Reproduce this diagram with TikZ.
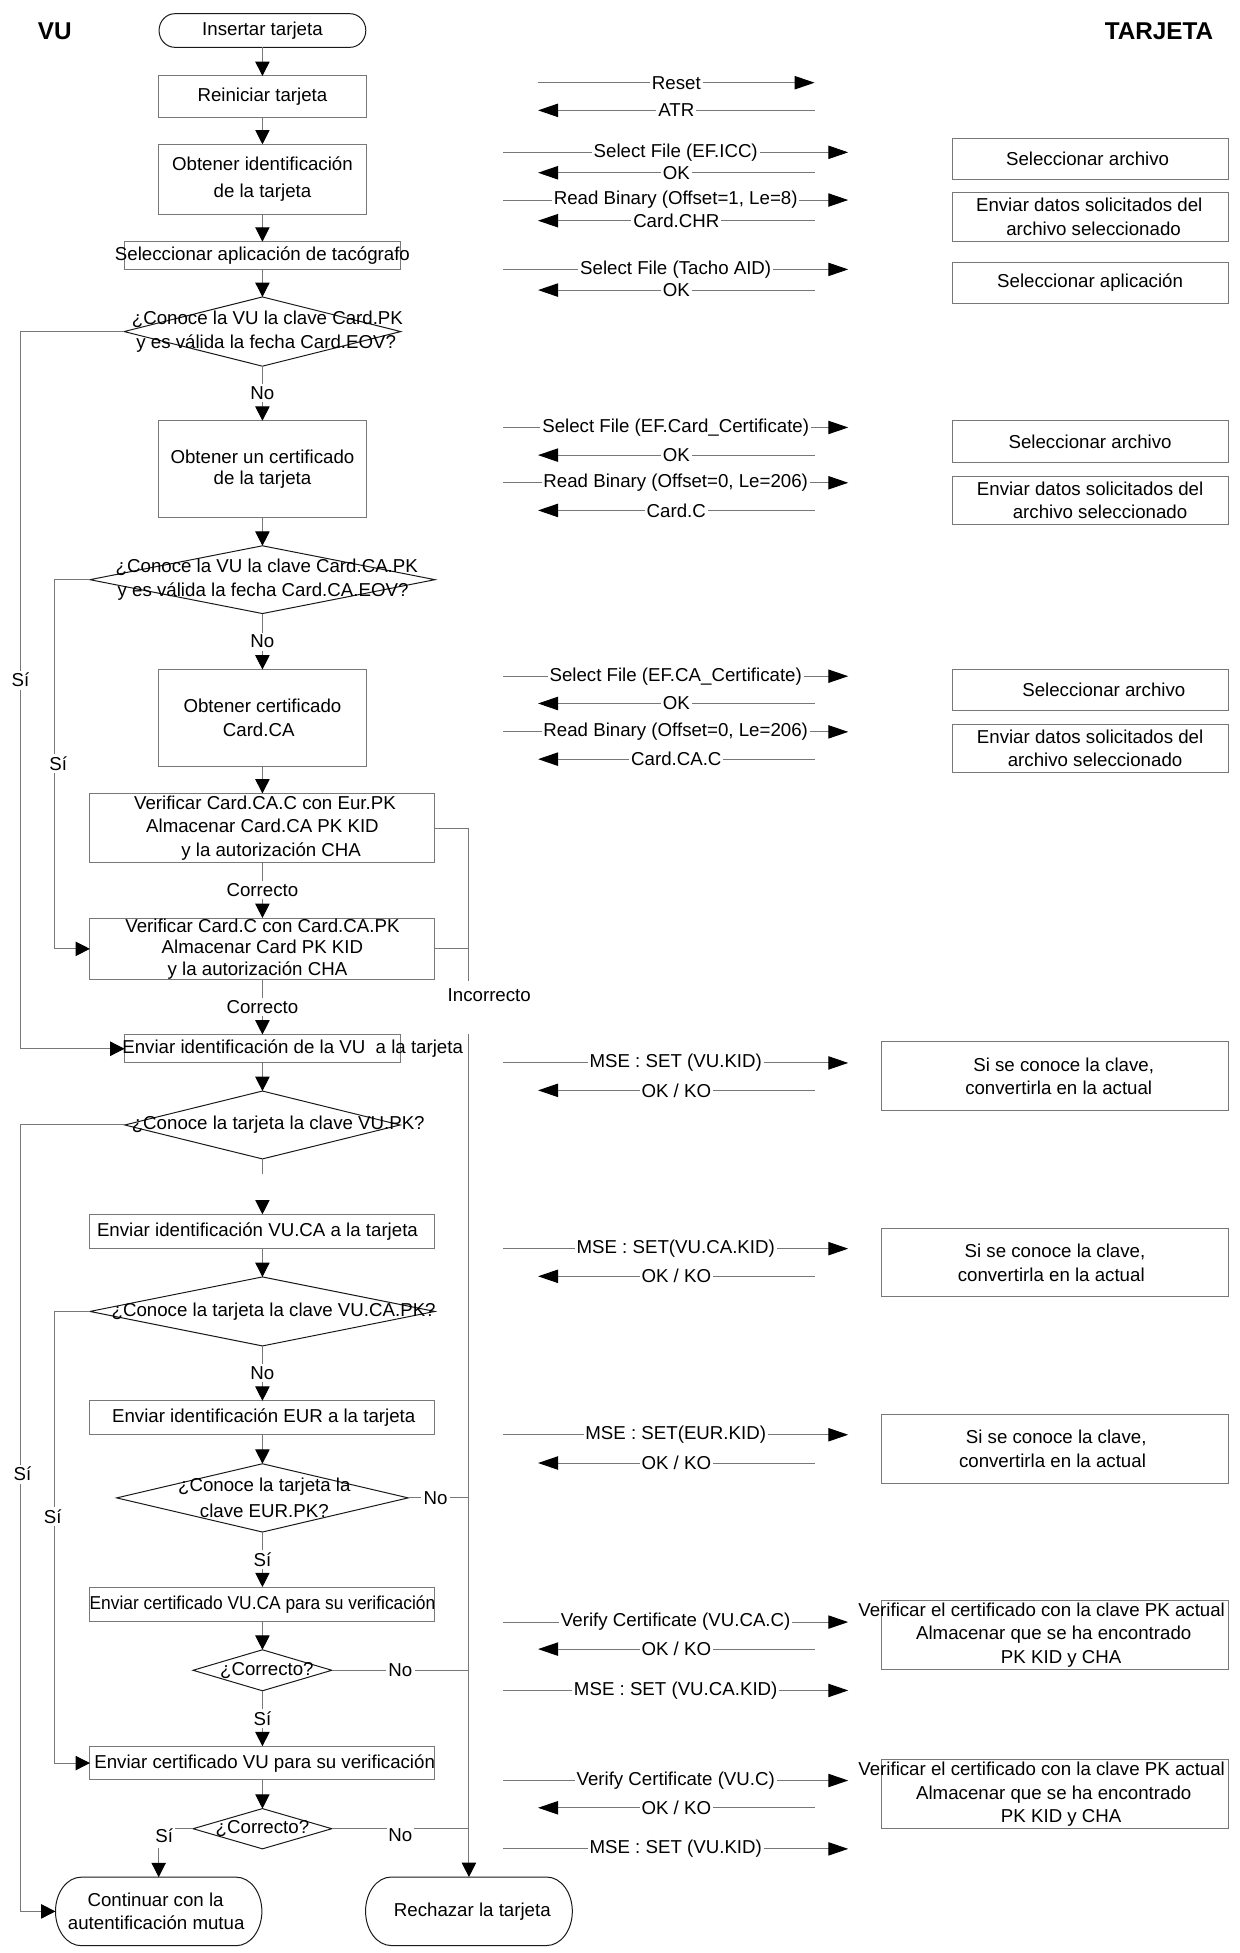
\documentclass[tikz,border=0pt]{standalone}
\usepackage{fontspec}
\usepackage{graphicx}
\setmainfont{Liberation Sans}
\newfontfamily\hdfont{Liberation Sans}
\usetikzlibrary{arrows.meta,shapes.geometric,calc}
\definecolor{lc}{RGB}{120,120,120}
\definecolor{dc}{RGB}{25,25,25}
\newcommand{\zl}[2][0]{\makebox[0pt]{\hspace*{#1pt}\hspace*{#1pt}#2}}
\newcommand{\termline}[3]{\draw[termo] ([xshift=#2pt]#1.north west) -- ([xshift=-#2pt]#1.north east) arc[start angle=90,end angle=-90,x radius=#2pt,y radius=#3pt] -- ([xshift=#2pt]#1.south west) arc[start angle=270,end angle=90,x radius=#2pt,y radius=#3pt] -- cycle;}
\begin{document}
\begin{tikzpicture}[x=1pt,y=-1pt,
  every node/.style={font=\fontsize{15}{18.7}\selectfont, inner sep=0pt, outer sep=0pt, text=black},
  box/.style 2 args={draw=lc, line width=0.8pt, minimum width=#1pt, minimum height=#2pt, align=center},
  dia/.style 2 args={diamond, draw=dc, line width=0.8pt, minimum width=#1pt, minimum height=#2pt, align=center},
  term/.style 2 args={minimum width=#1pt, minimum height=#2pt, align=center},
  termo/.style={draw=dc, line width=0.8pt},
  ln/.style={draw=lc, line width=0.8pt},
  arr/.style={ln, -{Triangle[length=11.5pt,width=11.5pt,color=black]}},
  marr/.style={ln, -{Triangle[length=16pt,width=10.7pt,color=black]}},
  lbl/.style={fill=white, inner sep=2pt},
  mlbl/.style={fill=white, inner xsep=1.5pt, inner ysep=2pt},
  hd/.style={font=\hdfont\bfseries\fontsize{19.5}{22}\selectfont}]
\fill[white] (0,0) rectangle (995,1568);
\useasboundingbox (0,0) rectangle (995,1568);

\node[hd] (vu) at (44,24.9) {VU};
\node[hd] (tj) at (930.5,24.9) {TARJETA};

% ---------------- left column ----------------
\node[term={166}{27}] (t1) at (210.7,24.5) {Insertar tarjeta};
\termline{t1}{12.7}{13.5}
\node[box={166.5}{33.2}] (b2) at (210.7,77.6) {Reiniciar tarjeta};
\node[box={166.5}{56.2}] (b3) at (210.7,144) {Obtener identificación\\[2.7pt]de la tarjeta};
\node[box={221.4}{22}] (b4) at (210.7,205) {\zl{Seleccionar aplicación de tacógrafo}};
\node[dia={222}{55.6}] (d1) at (210.7,266.2) {\zl[4]{¿Conoce la VU la clave Card.PK}\\\zl[3]{y es válida la fecha Card.EOV?}};
\node[box={167}{77.6}] (b5) at (210.7,376.6) {Obtener un certificado\\[-1.5pt]de la tarjeta};
\node[dia={277}{54.4}] (d2) at (210.7,465.4) {\zl[3.5]{¿Conoce la VU la clave Card.CA.PK}\\\zl[0.5]{y es válida la fecha Card.CA.EOV?}};
\node[box={167}{77.7}] (b6) at (210.7,576.4) {\zl{Obtener certificado}\\\zl[-3]{Card.CA}};
\node[box={277}{55.5}] (b7) at (210.7,664.8) {\zl[2]{Verificar Card.CA.C con Eur.PK}\\\zl{Almacenar Card.CA PK KID}\\\zl[7]{y la autorización CHA}};
\node[box={277}{49.5}] (b8) at (210.7,761.8) {\zl{Verificar Card.C con Card.CA.PK}\\[-1.3pt]\zl{Almacenar Card PK KID}\\[-1.3pt]\zl[-4]{y la autorización CHA}};
\node[box={221.4}{22.8}] (b9) at (210.7,842) {\zl[24.3]{Enviar identificación de la VU \ a la tarjeta}};
\node[dia={221}{54.5}] (d3) at (210.7,903.2) {\zl[12.7]{¿Conoce la tarjeta la clave VU.PK?}};
\node[box={277}{27.5}] (b10) at (210.7,988.7) {\zl[-4]{Enviar identificación VU.CA a la tarjeta}};
\node[dia={277}{55.4}] (d4) at (210.7,1052.9) {\zl[9]{¿Conoce la tarjeta la clave VU.CA.PK?}};
\node[box={277}{27.3}] (b11) at (210.7,1138.3) {\zl[1]{Enviar identificación EUR a la tarjeta}};
\node[dia={234}{54.8}] (d5) at (210.7,1202.6) {\zl[1.5]{¿Conoce la tarjeta la}\\[2.6pt]\zl[1.5]{clave EUR.PK?}};
\node[box={277}{28}] (b12) at (210.7,1288.2) {\zl{\scalebox{0.93}[1]{Enviar certificado VU.CA para su verificación}}};
\node[dia={111.4}{32.9}] (d6) at (210.7,1341) {\zl[3.6]{¿Correcto?}};
\node[box={277}{27}] (b13) at (210.7,1415.5) {\zl[1.8]{Enviar certificado VU para su verificación}};
\node[dia={111.4}{32.3}] (d7) at (210.7,1468.2) {\zl{¿Correcto?}};
\node[term={165.7}{55}] (t2) at (127.4,1534.6) {\zl[-2.5]{Continuar con la}\\\zl[-2]{autentificación mutua}};
\termline{t2}{20.6}{27.5}
\node[term={166}{55}] (t3) at (376.5,1534.5) {\zl[2.7]{Rechazar la tarjeta}};
\termline{t3}{20.6}{27.5}

% main flow
\draw[arr] (t1) -- (b2);
\draw[arr] (b2) -- (b3);
\draw[arr] (b3) -- (b4);
\draw[arr] (b4) -- (d1);
\draw[arr] (d1) -- node[lbl] (no1) {No} (b5);
\draw[arr] (b5) -- (d2);
\draw[arr] (d2) -- node[lbl] (no2) {No} (b6);
\draw[arr] (b6) -- (b7);
\draw[arr] (b7) -- node[lbl] (ok1) {Correcto} (b8);
\draw[arr] (b8) -- node[lbl] (ok2) {Correcto} (b9);
\draw[arr] (b9) -- (d3);
\draw[ln] (d3.south) -- ($(d3.south)+(0,11.8)$);
\draw[arr] ($(b10.north)+(0,-11.3)$) -- (b10.north);
\draw[arr] (b10) -- (d4);
\draw[arr] (d4) -- node[lbl] (no4) {No} (b11);
\draw[arr] (b11) -- (d5);
\draw[arr] (d5) -- node[lbl] (si5) {Sí} (b12);
\draw[arr] (b12) -- (d6);
\draw[arr] (d6) -- node[lbl] (si6) {Sí} (b13);
\draw[arr] (b13) -- (d7);

% "Si" branches on the left
\coordinate (xo) at (16.5,0);
\coordinate (xi) at (43.8,0);
\draw[arr] (d1.west) -- (d1.west -| xo) -- node[lbl,pos=0.486] (sia) {Sí} (b9.west -| xo) -- (b9.west);
\draw[arr] (d3.west) -- (d3.west -| xo) -- node[lbl,pos=0.444,xshift=1.5pt] (sib) {Sí} (t2.west -| xo) -- (t2.west);
\draw[arr] (d2.west) -- (d2.west -| xi) -- node[lbl,pos=0.498,xshift=3pt] (sic) {Sí} (b8.west -| xi) -- (b8.west);
\draw[arr] (d4.west) -- (d4.west -| xi) -- node[lbl,pos=0.455,xshift=-1.5pt] (sid) {Sí} (b13.west -| xi) -- (b13.west);

% last decision, Si
\node[inner sep=1.5pt] (si7) at (131.8,1473.6) {Sí};
\coordinate (s7a) at (127.4,1484);
\draw[ln] (d7.west) -- (si7.east |- d7.west);
\draw[arr] (s7a) -- (t2.north);

% "Incorrecto" / "No" bus to Rechazar
\coordinate (vx) at (376.5,0);
\coordinate (g1) at (376.5,788);
\coordinate (g2) at (376.5,830);
\node (inc) at (392.8,799) {Incorrecto};
\draw[ln] (b7.east) -- (b7.east -| vx) -- (g1);
\draw[ln] (b8.east) -- (b8.east -| vx);
\draw[arr] (g2) -- (t3.north);
\draw[ln] (d5.east) -- node[lbl,pos=0.45] (no5) {No} (d5.east -| vx);
\draw[ln] (d6.east) -- node[lbl] (no6) {No} (d6.east -| vx);
\node[inner sep=1.5pt] (no7) at (321.4,1473.6) {No};
\draw[ln] (d7.east) -- (no7.west |- d7.east);
\draw[ln] (no7.east |- d7.east) -- (d7.east -| vx);

% ---------------- messages ----------------
\coordinate (rsa) at (432,66.4);
\coordinate (rsb) at (654,66.4);
\draw[marr] (rsa) -- node[mlbl] (rsl) {Reset} (rsb);
\foreach \yy/\mt [count=\i] in {
  122.3/{Select File (EF.ICC)},
  160.6/{Read Binary (Offset=1, Le=8)},
  216.3/{Select File (Tacho AID)},
  343.2/{Select File (EF.Card\_Certificate)},
  387.6/{Read Binary (Offset=0, Le=206)},
  542.9/{Select File (EF.CA\_Certificate)},
  587.6/{Read Binary (Offset=0, Le=206)},
  853.4/{MSE : SET (VU.KID)},
  1002.5/{MSE : SET(VU.CA.KID)},
  1151.9/{MSE : SET(EUR.KID)},
  1302.3/{Verify Certificate (VU.CA.C)},
  1357.2/{MSE : SET (VU.CA.KID)},
  1429.5/{Verify Certificate (VU.C)},
  1484.4/{MSE : SET (VU.KID)}}{
  \coordinate (ra\i) at (404,\yy);
  \coordinate (rb\i) at (681,\yy);
  \draw[marr] (ra\i) -- node[mlbl] (rl\i) {\mt} (rb\i);
}
\foreach \yy/\mt [count=\i] in {
  88.6/{ATR}, 138.7/{OK}, 177.2/{Card.CHR}, 232.9/{OK},
  365.4/{OK}, 409.8/{Card.C}, 564.8/{OK}, 609.5/{Card.CA.C},
  875.4/{OK / KO}, 1024.7/{OK / KO}, 1174.6/{OK / KO},
  1324/{OK / KO}, 1451.4/{OK / KO}}{
  \coordinate (la\i) at (654,\yy);
  \coordinate (lb\i) at (432,\yy);
  \draw[marr] (la\i) -- node[mlbl] (ll\i) {\mt} (lb\i);
}

% ---------------- card boxes ----------------
\node[box={221.5}{32.9}] (r1) at (875.2,127.5) {\zl[-2]{Seleccionar archivo}};
\node[box={221.5}{38.8}] (r2) at (875.2,174.1) {\zl[-0.7]{Enviar datos solicitados del}\\\zl[2.8]{archivo seleccionado}};
\node[box={221.5}{32.9}] (r3) at (875.2,227.1) {\zl{Seleccionar aplicación}};
\node[box={221.5}{33.5}] (r4) at (875.2,354.5) {\zl{Seleccionar archivo}};
\node[box={221.5}{38.7}] (r5) at (875.2,401.6) {\zl{Enviar datos solicitados del}\\\zl[8]{archivo seleccionado}};
\node[box={221.5}{33.2}] (r6) at (875.2,554.1) {\zl[11]{Seleccionar archivo}};
\node[box={221.5}{39}] (r7) at (875.2,601) {\zl{Enviar datos solicitados del}\\\zl[4]{archivo seleccionado}};
\node[box={278}{55.5}] (r8) at (847,864.2) {\zl[7]{Si se conoce la clave,}\\\zl[3]{convertirla en la actual}};
\node[box={278}{54.8}] (r9) at (847,1013.9) {\zl{Si se conoce la clave,}\\\zl[-3]{convertirla en la actual}};
\node[box={278}{54.9}] (r10) at (847,1163.2) {\zl[1]{Si se conoce la clave,}\\\zl[-2]{convertirla en la actual}};
\node[box={278}{55.6}] (r11) at (847,1312.8) {\zl[-10.7]{Verificar el certificado con la clave PK actual}\\\zl[-1]{Almacenar que se ha encontrado}\\\zl[5]{PK KID y CHA}};
\node[box={278}{55.7}] (r12) at (847,1440.5) {\zl[-10.7]{Verificar el certificado con la clave PK actual}\\\zl[-1]{Almacenar que se ha encontrado}\\\zl[5]{PK KID y CHA}};
\end{tikzpicture}
\end{document}
